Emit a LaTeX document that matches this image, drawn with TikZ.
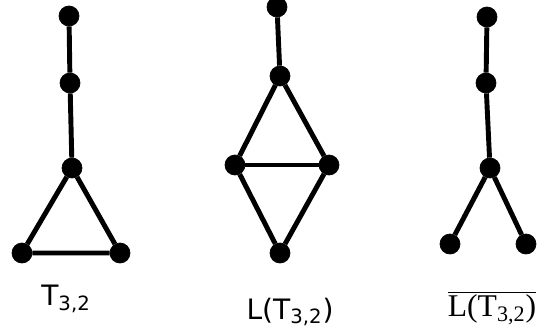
\documentclass[tikz,border=0pt]{standalone}
\usepackage{fontspec}
\setsansfont{DejaVu Sans}
\setmainfont{Liberation Serif}
\usepackage{tikz}

\begin{document}
\begin{tikzpicture}[
    x=0.02cm, y=-0.02cm,
    dot/.style={draw, circle, fill=black, inner sep=0pt, minimum size=0.4cm},
    edge/.style={line width=2.8pt},
    lab/.style={font=\sffamily\fontsize{16}{18}\selectfont}
]
\useasboundingbox (0,0) rectangle (539,335);

% T_{3,2}
\node[dot] (a1) at (69,16) {};
\node[dot] (a2) at (70,83) {};
\node[dot] (a3) at (72,168) {};
\node[dot] (a4) at (22,253) {};
\node[dot] (a5) at (120,253) {};
\node[lab] (ta) at (66,299) {T\textsubscript{3,2}};

% L(T_{3,2})
\node[dot] (b1) at (277,7) {};
\node[dot] (b2) at (280,76) {};
\node[dot] (b3) at (235,165) {};
\node[dot] (b4) at (329,165) {};
\node[dot] (b5) at (280,253) {};
\node[lab] (tb) at (290,312) {L(T\textsubscript{3,2})};

% complement
\node[dot] (c1) at (487,17) {};
\node[dot] (c2) at (486,83) {};
\node[dot] (c3) at (490,168) {};
\node[dot] (c4) at (450,244) {};
\node[dot] (c5) at (526,244) {};
\node[font=\rmfamily\fontsize{18}{20}\selectfont] (tc) at (492,308) {$\overline{\mbox{L(T\textsubscript{3,2})}}$};

% Edges
\draw[edge] (a1) -- (a2) -- (a3);
\draw[edge] (a3) -- (a4) -- (a5) -- (a3);

\draw[edge] (b1) -- (b2);
\draw[edge] (b2) -- (b3) -- (b5) -- (b4) -- (b2);
\draw[edge] (b3) -- (b4);

\draw[edge] (c1) -- (c2) -- (c3);
\draw[edge] (c3) -- (c4);
\draw[edge] (c3) -- (c5);

\end{tikzpicture}
\end{document}
